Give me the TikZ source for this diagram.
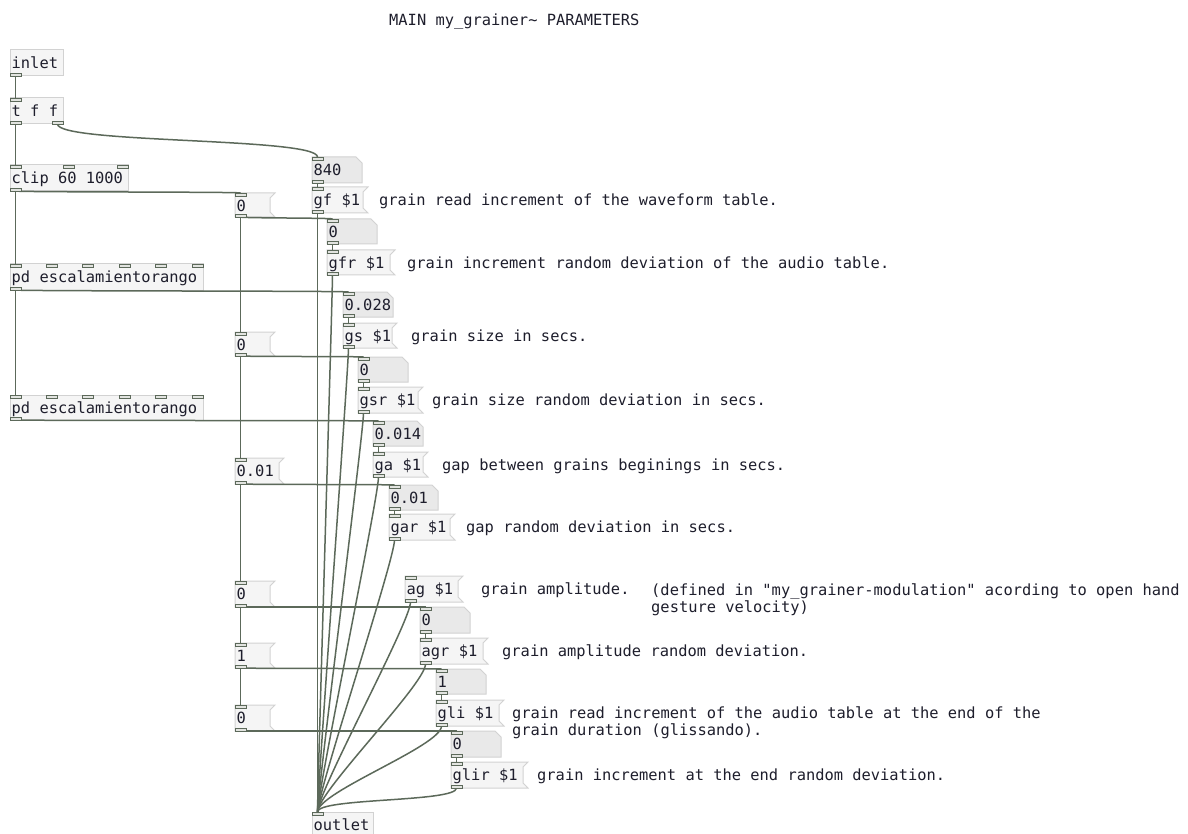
\documentclass[tikz,border=0pt]{standalone}
\usepackage{fontspec}
\setmonofont{DejaVu Sans Mono}
\usetikzlibrary{calc}
\definecolor{wirec}{HTML}{5C695A}
\definecolor{boxfill}{HTML}{F5F5F5}
\definecolor{boxline}{HTML}{D2D2D2}
\definecolor{numfill}{HTML}{E9E9E9}
\definecolor{portfill}{HTML}{E2E4E0}
\definecolor{txtc}{HTML}{1E1E2C}
\pgfdeclarelayer{ports}
\pgfsetlayers{main,ports}
\newcommand\pdfnt{\ttfamily\fontsize{15.4}{17}\selectfont}
\tikzset{
 pdbox/.style={draw=boxline, fill=boxfill, line width=1pt},
 pdnumbox/.style={draw=boxline, fill=numfill, line width=1pt},
 pdportst/.style={draw=wirec, fill=portfill, line width=0.8pt},
 pdwirest/.style={draw=wirec, line width=1.5pt},
 pdtext/.style={inner sep=0pt, anchor=base west, text=txtc, font=\pdfnt},
}
% name, xleft, ytop of rectangle, anchor y
\newcommand\pdport[4]{%
  \coordinate (#1) at ({#2+5.5},#4);
  \begin{pgfonlayer}{ports}
   \draw[pdportst] (#2,#3) rectangle ({#2+11},{#3+3});
  \end{pgfonlayer}
}
% name, x1, x2, y1, n
\newcommand\pdinlets[5]{%
  \foreach \k in {1,...,#5}{%
    \pgfmathsetmacro\pdx{#2+(\k-1)*(#3-#2-11)/max(#5-1,1)}%
    \pdport{#1-i\k}{\pdx}{#4}{#4}%
  }%
}
\newcommand\pdoutlets[5]{%
  \foreach \k in {1,...,#5}{%
    \pgfmathsetmacro\pdx{#2+(\k-1)*(#3-#2-11)/max(#5-1,1)}%
    \pdport{#1-o\k}{\pdx}{#4-3}{#4}%
  }%
}
% name,x1,y1,x2,y2,text,nin,nout
\newcommand\pdobj[8]{%
  \draw[pdbox] (#2,#3) rectangle (#4,#5);
  \node[pdtext] (#1) at ({#2+1.5},{#3+18.5}) {#6};
  \ifnum#7>0 \pdinlets{#1}{#2}{#4}{#3}{#7}\fi
  \ifnum#8>0 \pdoutlets{#1}{#2}{#4}{#5}{#8}\fi
}
% name,x1,y1,notch,y2,text
\newcommand\pdmsg[6]{%
  \draw[pdbox] (#2,#3) -- ({#4+5},#3) -- (#4,{#3+5}) -- (#4,{#5-5}) -- ({#4+5},#5) -- (#2,#5) -- cycle;
  \node[pdtext] (#1) at ({#2+1.5},{#3+18.5}) {#6};
  \pdinlets{#1}{#2}{#4}{#3}{1}
  \pdoutlets{#1}{#2}{#4}{#5}{1}
}
% name,x1,y1,x2,y2,text
\newcommand\pdnum[6]{%
  \draw[pdnumbox] (#2,#3) -- ({#4-6},#3) -- (#4,{#3+6}) -- (#4,#5) -- (#2,#5) -- cycle;
  \node[pdtext] (#1) at ({#2+1.5},{#3+18.5}) {#6};
  \pdinlets{#1}{#2}{#4}{#3}{1}
  \pdoutlets{#1}{#2}{#4}{#5}{1}
}
\newcommand\pdwire[2]{%
  \draw[pdwirest] let \p1=(#1), \p2=(#2), \n1={min(20,0.6*abs(\y2-\y1))} in
   (\p1) .. controls (\x1,{\y1-\n1*1pt}) and (\x2,{\y2+\n1*1pt}) .. (\p2);
}
\begin{document}
\begin{tikzpicture}[x=1pt,y=-1pt]
\fill[white] (0,0) rectangle (1188,834);
\useasboundingbox (0,0) rectangle (1188,834);

% title
\node[pdtext] (title) at (389,26) {MAIN my\_grainer\textasciitilde{} PARAMETERS};

% left column objects
\pdobj{inl}{10}{50}{63}{76}{inlet}{0}{1}
\pdobj{tff}{10}{98}{63}{124}{t f f}{1}{2}
\pdobj{clip}{10}{165}{128}{191}{clip 60 1000}{3}{1}
\pdobj{pda}{10}{264}{203}{290}{pd escalamientorango}{6}{1}
\pdobj{pdb}{10}{395}{203}{420}{pd escalamientorango}{6}{1}
\pdobj{outl}{312}{812}{373}{837}{outlet}{1}{0}

% left message boxes
\pdmsg{ma}{235}{193}{270}{217}{0}
\pdmsg{mb}{235}{332}{270}{356}{0}
\pdmsg{mc}{235}{458}{279}{484}{0.01}
\pdmsg{md}{235}{581}{270}{607}{0}
\pdmsg{me}{235}{643}{270}{668}{1}
\pdmsg{mf}{235}{705}{270}{731}{0}

% right staircase
\pdnum{na}{312}{157}{362}{183}{840}
\pdmsg{ga}{312}{187}{363}{213}{gf \$1}
\pdnum{nb}{327}{219}{377}{244}{0}
\pdmsg{gb}{327}{250}{390}{275}{gfr \$1}
\pdnum{nc}{343}{292}{393}{317}{0.028}
\pdmsg{gc}{343}{323}{392}{348}{gs \$1}
\pdnum{nd}{358}{357}{408}{382}{0}
\pdmsg{gd}{358}{387}{418}{413}{gsr \$1}
\pdnum{ne}{373}{421}{423}{446}{0.014}
\pdmsg{ge}{373}{452}{423}{477}{ga \$1}
\pdnum{nf}{389}{485}{438}{510}{0.01}
\pdmsg{gf}{389}{514}{450}{540}{gar \$1}
\pdmsg{gg}{405}{576}{458}{602}{ag \$1}
\pdnum{nh}{420}{607}{470}{633}{0}
\pdmsg{gh}{420}{638}{483}{664}{agr \$1}
\pdnum{ni}{436}{669}{486}{694}{1}
\pdmsg{gi}{436}{700}{499}{726}{gli \$1}
\pdnum{nj}{451}{731}{501}{757}{0}
\pdmsg{gj}{451}{762}{523}{788}{glir \$1}

% comments
\node[pdtext] (c1) at (379,205.5) {grain read increment of the waveform table.};
\node[pdtext] (c2) at (407,268.5) {grain increment random deviation of the audio table.};
\node[pdtext] (c3) at (411,341.5) {grain size in secs.};
\node[pdtext] (c4) at (432,405.5) {grain size random deviation in secs.};
\node[pdtext] (c5) at (442,470.5) {gap between grains beginings in secs.};
\node[pdtext] (c6) at (466,532.5) {gap random deviation in secs.};
\node[pdtext] (c7) at (481,594.5) {grain amplitude.};
\node[pdtext] (c8) at (651,595) {\vtop{\hbox{(defined in "my\_grainer-modulation" acording to open hand}\hbox{gesture velocity)}}};
\node[pdtext] (c9) at (502,656.5) {grain amplitude random deviation.};
\node[pdtext] (c10) at (512,718.5) {\vtop{\hbox{grain read increment of the audio table at the end of the}\hbox{grain duration (glissando).}}};
\node[pdtext] (c11) at (537,780.5) {grain increment at the end random deviation.};

% wires
\pdwire{inl-o1}{tff-i1}
\pdwire{tff-o1}{clip-i1}
\pdwire{tff-o2}{na-i1}
\pdwire{clip-o1}{ma-i1}
\pdwire{clip-o1}{pda-i1}
\pdwire{pda-o1}{pdb-i1}
\pdwire{pda-o1}{nc-i1}
\pdwire{pdb-o1}{ne-i1}
\pdwire{ma-o1}{nb-i1}
\pdwire{ma-o1}{mb-i1}
\pdwire{mb-o1}{nd-i1}
\pdwire{mb-o1}{mc-i1}
\pdwire{mc-o1}{nf-i1}
\pdwire{mc-o1}{md-i1}
\pdwire{md-o1}{nh-i1}
\pdwire{md-o1}{me-i1}
\pdwire{me-o1}{ni-i1}
\pdwire{me-o1}{mf-i1}
\pdwire{mf-o1}{nj-i1}
\pdwire{na-o1}{ga-i1}
\pdwire{nb-o1}{gb-i1}
\pdwire{nc-o1}{gc-i1}
\pdwire{nd-o1}{gd-i1}
\pdwire{ne-o1}{ge-i1}
\pdwire{nf-o1}{gf-i1}
\pdwire{nh-o1}{gh-i1}
\pdwire{ni-o1}{gi-i1}
\pdwire{nj-o1}{gj-i1}
\pdwire{ga-o1}{outl-i1}
\pdwire{gb-o1}{outl-i1}
\pdwire{gc-o1}{outl-i1}
\pdwire{gd-o1}{outl-i1}
\pdwire{ge-o1}{outl-i1}
\pdwire{gf-o1}{outl-i1}
\pdwire{gg-o1}{outl-i1}
\pdwire{gh-o1}{outl-i1}
\pdwire{gi-o1}{outl-i1}
\pdwire{gj-o1}{outl-i1}
\end{tikzpicture}
\end{document}
